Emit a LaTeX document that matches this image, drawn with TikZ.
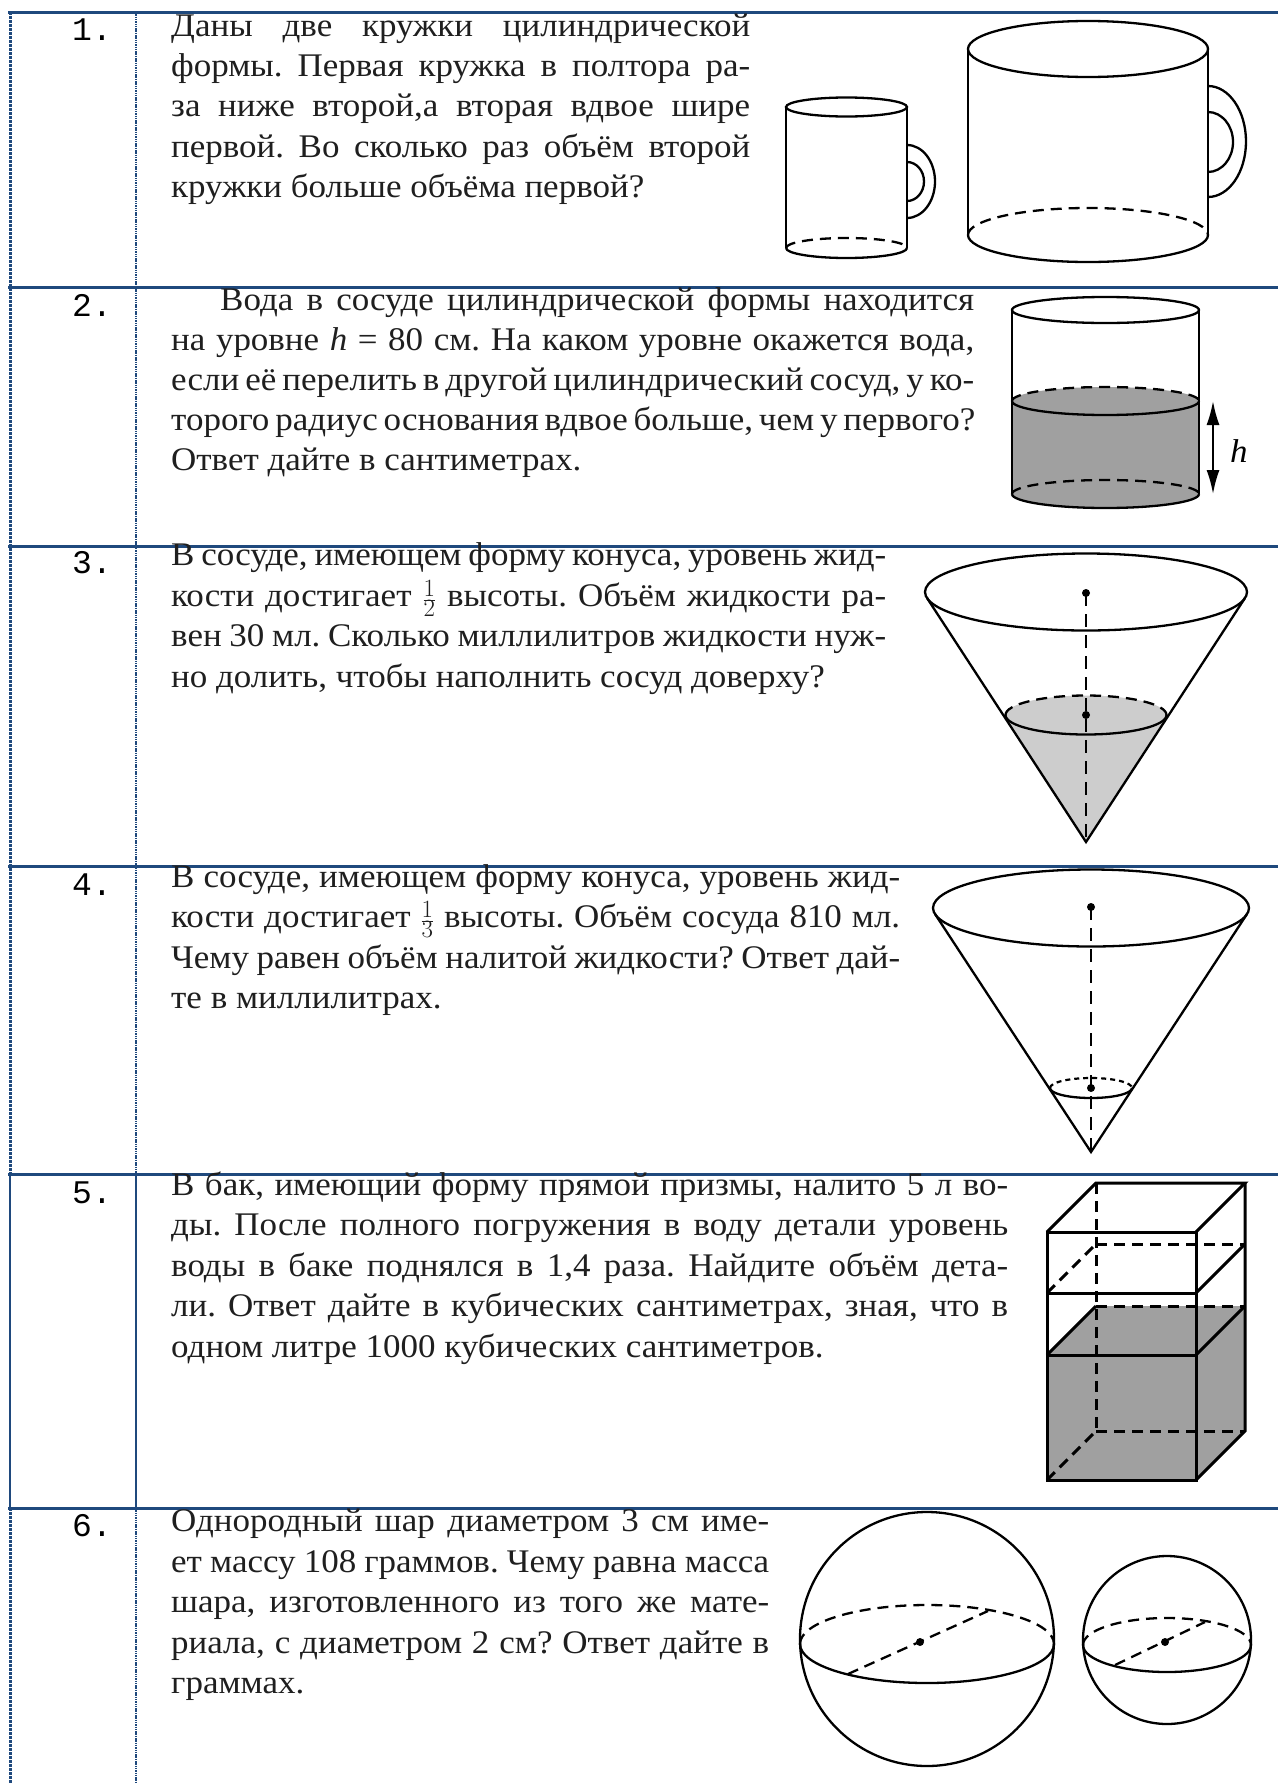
\documentclass[tikz,border=0pt]{standalone}
\usepackage{fontspec}
\setmainfont[FakeStretch=1.06]{Liberation Serif}
\setmonofont{Liberation Mono}
\usetikzlibrary{arrows.meta}
\definecolor{tblue}{HTML}{1F497D}
\definecolor{wgray}{HTML}{A0A0A0}
\definecolor{lgray}{HTML}{CDCDCD}
\tikzset{
  txt/.style={anchor=base west, inner sep=0pt, font=\fontsize{33}{40}\selectfont\frenchspacing, text=black!88},
  num/.style={anchor=base west, inner sep=0pt, font=\ttfamily\fontsize{33}{40}\selectfont},
  hline/.style={line width=3pt, draw=tblue},
  lbdot/.style={line width=3pt, draw=tblue, dash pattern=on 3pt off 1pt},
  lbsolid/.style={line width=2.5pt, draw=tblue},
  cdot/.style={line width=1.3pt, draw=tblue, dash pattern=on 1.5pt off 0.8pt},
  csolid/.style={line width=1.8pt, draw=tblue},
  fig/.style={line width=2.3pt, draw=black},
  hid/.style={line width=2.3pt, draw=black, dash pattern=on 11pt off 7pt},
  hidshort/.style={line width=2.2pt, draw=black, dash pattern=on 5pt off 4pt},
  axis/.style={line width=2pt, draw=black, dash pattern=on 13pt off 8pt},
  ptdot/.style={fill=black},
}
\begin{document}
\begin{tikzpicture}[x=1pt,y=-1pt]
\useasboundingbox (0,0) rectangle (1278,1783);
\fill[white] (0,0) rectangle (1278,1783);

% ---------- table rules ----------
\foreach \yy in {12,287,546,866,1174,1508} {\draw[hline] (8,\yy) -- (1278,\yy);}
\draw[lbdot] (10,12) -- (10,1174);
\draw[lbsolid] (10,1174) -- (10,1508);
\draw[lbdot] (10,1508) -- (10,1783);
\draw[cdot] (136,12) -- (136,1174);
\draw[csolid] (136,1174) -- (136,1508);
\draw[cdot] (136,1508) -- (136,1783);

% ---------- numbers ----------
\node[num] (n1) at (72,40) {1.};
\node[num] (n2) at (72,316) {2.};
\node[num] (n3) at (72,573) {3.};
\node[num] (n4) at (72,895) {4.};
\node[num] (n5) at (72,1203) {5.};
\node[num] (n6) at (72,1536) {6.};

% ---------- row 1 text ----------
\node[txt] (t1a) at (171,36)  {\makebox[579pt][s]{Даны две кружки цилиндрической}};
\node[txt] (t1b) at (171,76)  {\makebox[579pt][s]{формы. Первая кружка в полтора ра-}};
\node[txt] (t1c) at (171,116) {\makebox[579pt][s]{за ниже второй,а вторая вдвое шире}};
\node[txt] (t1d) at (171,157) {\makebox[579pt][s]{первой. Во сколько раз объём второй}};
\node[txt] (t1e) at (171,197) {кружки больше объёма первой?};

% ---------- row 2 text ----------
\node[txt] (t2a) at (220,310) {\makebox[754pt][s]{Вода в сосуде цилиндрической формы находится}};
\node[txt] (t2b) at (171,350) {\makebox[803pt][s]{на уровне \textit{h} = 80 см. На каком уровне окажется вода,}};
\node[txt] (t2c) at (171,390) {\makebox[803pt][s]{если её перелить в другой цилиндрический сосуд, у ко-}};
\node[txt] (t2d) at (171,430) {\makebox[803pt][s]{торого радиус основания вдвое больше, чем у первого?}};
\node[txt] (t2e) at (171,470) {Ответ дайте в сантиметрах.};

% ---------- row 3 text ----------
\node[txt] (t3a) at (171,565) {\makebox[715pt][s]{В сосуде, имеющем форму конуса, уровень жид-}};
\node[txt] (t3b) at (171,606) {\makebox[715pt][s]{кости достигает $\frac{1}{2}$ высоты. Объём жидкости ра-}};
\node[txt] (t3c) at (171,646) {\makebox[715pt][s]{вен 30 мл. Сколько миллилитров жидкости нуж-}};
\node[txt] (t3d) at (171,687) {но долить, чтобы наполнить сосуд доверху?};

% ---------- row 4 text ----------
\node[txt] (t4a) at (171,887)  {\makebox[729pt][s]{В сосуде, имеющем форму конуса, уровень жид-}};
\node[txt] (t4b) at (171,927)  {\makebox[729pt][s]{кости достигает $\frac{1}{3}$ высоты. Объём сосуда 810 мл.}};
\node[txt] (t4c) at (171,968)  {\makebox[729pt][s]{Чему равен объём налитой жидкости? Ответ дай-}};
\node[txt] (t4d) at (171,1008) {те в миллилитрах.};

% ---------- row 5 text ----------
\node[txt] (t5a) at (171,1195) {\makebox[837pt][s]{В бак, имеющий форму прямой призмы, налито 5 л во-}};
\node[txt] (t5b) at (171,1235) {\makebox[837pt][s]{ды. После полного погружения в воду детали уровень}};
\node[txt] (t5c) at (171,1276) {\makebox[837pt][s]{воды в баке поднялся в 1,4 раза. Найдите объём дета-}};
\node[txt] (t5d) at (171,1316) {\makebox[837pt][s]{ли. Ответ дайте в кубических сантиметрах, зная, что в}};
\node[txt] (t5e) at (171,1357) {одном литре 1000 кубических сантиметров.};

% ---------- row 6 text ----------
\node[txt] (t6a) at (171,1531) {\makebox[598pt][s]{Однородный шар диаметром 3 см име-}};
\node[txt] (t6b) at (171,1572) {\makebox[598pt][s]{ет массу 108 граммов. Чему равна масса}};
\node[txt] (t6c) at (171,1612) {\makebox[598pt][s]{шара, изготовленного из того же мате-}};
\node[txt] (t6d) at (171,1653) {\makebox[598pt][s]{риала, с диаметром 2 см? Ответ дайте в}};
\node[txt] (t6e) at (171,1693) {граммах.};

% ---------- row 1 figure: mugs ----------
\draw[fig] (786,107) -- (786,248);
\draw[fig] (907,107) -- (907,248);
\draw[fig] (846.5,107) ellipse[x radius=60.5, y radius=9.5];
\draw[fig] (786,248) arc[start angle=180, end angle=0, x radius=60.5, y radius=10];
\draw[hid] (786,248) arc[start angle=180, end angle=360, x radius=60.5, y radius=10];
\draw[fig] (907,145) arc[start angle=-90, end angle=90, x radius=28, y radius=36.5];
\draw[fig] (907,162) arc[start angle=-90, end angle=90, x radius=17, y radius=19.5];
\draw[fig] (968,49) -- (968,235);
\draw[fig] (1208,49) -- (1208,235);
\draw[fig] (1088,49) ellipse[x radius=120, y radius=28];
\draw[fig] (968,235) arc[start angle=180, end angle=0, x radius=120, y radius=27];
\draw[hid] (968,235) arc[start angle=180, end angle=360, x radius=120, y radius=27];
\draw[fig] (1208,86) arc[start angle=-90, end angle=90, x radius=38, y radius=55.5];
\draw[fig] (1208,112) arc[start angle=-90, end angle=90, x radius=25, y radius=30];

% ---------- row 2 figure ----------
\fill[wgray] (1012,401) arc[start angle=180, end angle=360, x radius=93.5, y radius=14]
  -- (1199,494) arc[start angle=0, end angle=180, x radius=93.5, y radius=14] -- cycle;
\draw[fig] (1012,310) -- (1012,494);
\draw[fig] (1199,310) -- (1199,494);
\draw[fig] (1105.5,310) ellipse[x radius=93.5, y radius=13];
\draw[fig] (1012,401) arc[start angle=180, end angle=0, x radius=93.5, y radius=14];
\draw[hid] (1012,401) arc[start angle=180, end angle=360, x radius=93.5, y radius=14];
\draw[fig] (1012,494) arc[start angle=180, end angle=0, x radius=93.5, y radius=14];
\draw[hid] (1012,494) arc[start angle=180, end angle=360, x radius=93.5, y radius=14];
\coordinate (hA) at (1213,401);
\coordinate (hB) at (1213,494);
\draw[line width=2pt, {Latex[length=24pt,width=13pt]}-{Latex[length=24pt,width=13pt]}] (hA) -- (hB);
\node[anchor=base west, inner sep=0pt, font=\fontsize{33}{40}\selectfont\itshape] (hlab) at (1230,462) {h};

% ---------- row 3 figure ----------
\fill[lgray] (1006.5,718) -- (1086,842) -- (1165.5,718) -- cycle;
\fill[lgray] (1086,715) ellipse[x radius=80.5, y radius=19.5];
\draw[fig] (1086,592) ellipse[x radius=161, y radius=38.5];
\draw[fig, line join=miter] (927,598) -- (1086,842) -- (1245,598);
\draw[fig] (1005.5,715) arc[start angle=180, end angle=0, x radius=80.5, y radius=19.5];
\draw[hid] (1005.5,715) arc[start angle=180, end angle=360, x radius=80.5, y radius=19.5];
\draw[axis] (1086,593) -- (1086,842);
\fill[ptdot] (1086,593) circle[radius=4];
\fill[ptdot] (1086,715) circle[radius=4];

% ---------- row 4 figure ----------
\draw[fig] (1091,908) ellipse[x radius=158, y radius=38.5];
\draw[fig, line join=miter] (935,914) -- (1091,1152) -- (1247,914);
\draw[fig] (1050,1088) arc[start angle=180, end angle=0, x radius=41, y radius=10];
\draw[hidshort] (1050,1088) arc[start angle=180, end angle=360, x radius=41, y radius=10];
\draw[axis] (1091,907) -- (1091,1152);
\fill[ptdot] (1091,907) circle[radius=4];
\fill[ptdot] (1091,1088) circle[radius=4];

% ---------- row 5 figure ----------
\fill[wgray] (1047,1355) -- (1096,1306) -- (1245,1306) -- (1245,1431) -- (1196,1480) -- (1047,1480) -- cycle;
\draw[fig, line width=3pt] (1047,1232) rectangle (1196,1480);
\draw[fig, line width=3pt] (1047,1293) -- (1196,1293);
\draw[fig, line width=3pt] (1047,1355) -- (1196,1355);
\draw[fig, line width=3pt] (1047,1232) -- (1096,1183) -- (1245,1183) -- (1196,1232);
\draw[fig, line width=3pt] (1245,1183) -- (1245,1431) -- (1196,1480);
\draw[fig, line width=3pt] (1196,1293) -- (1245,1244);
\draw[fig, line width=3pt] (1196,1355) -- (1245,1306);
\draw[fig, line width=3pt] (1047,1355) -- (1096,1306);
\draw[hid, line width=3pt] (1096,1183) -- (1096,1431);
\draw[hid, line width=3pt] (1096,1244) -- (1245,1244);
\draw[hid, line width=3pt] (1096,1306) -- (1245,1306);
\draw[hid, line width=3pt] (1096,1431) -- (1245,1431);
\draw[hid, line width=3pt] (1047,1293) -- (1096,1244);
\draw[hid, line width=3pt] (1047,1480) -- (1096,1431);

% ---------- row 6 figure ----------
\draw[fig] (927,1639) circle[radius=127];
\draw[fig] (800,1644) arc[start angle=180, end angle=0, x radius=127, y radius=39];
\draw[hid] (800,1644) arc[start angle=180, end angle=360, x radius=127, y radius=39];
\draw[hid] (848,1674) -- (988,1611);
\fill[ptdot] (920,1642) circle[radius=4];
\draw[fig] (1167,1640) circle[radius=84];
\draw[fig] (1083,1645) arc[start angle=180, end angle=0, x radius=84, y radius=27];
\draw[hid] (1083,1645) arc[start angle=180, end angle=360, x radius=84, y radius=27];
\draw[hid] (1115,1665) -- (1205,1622);
\fill[ptdot] (1165,1642) circle[radius=4];
\end{tikzpicture}
\end{document}
